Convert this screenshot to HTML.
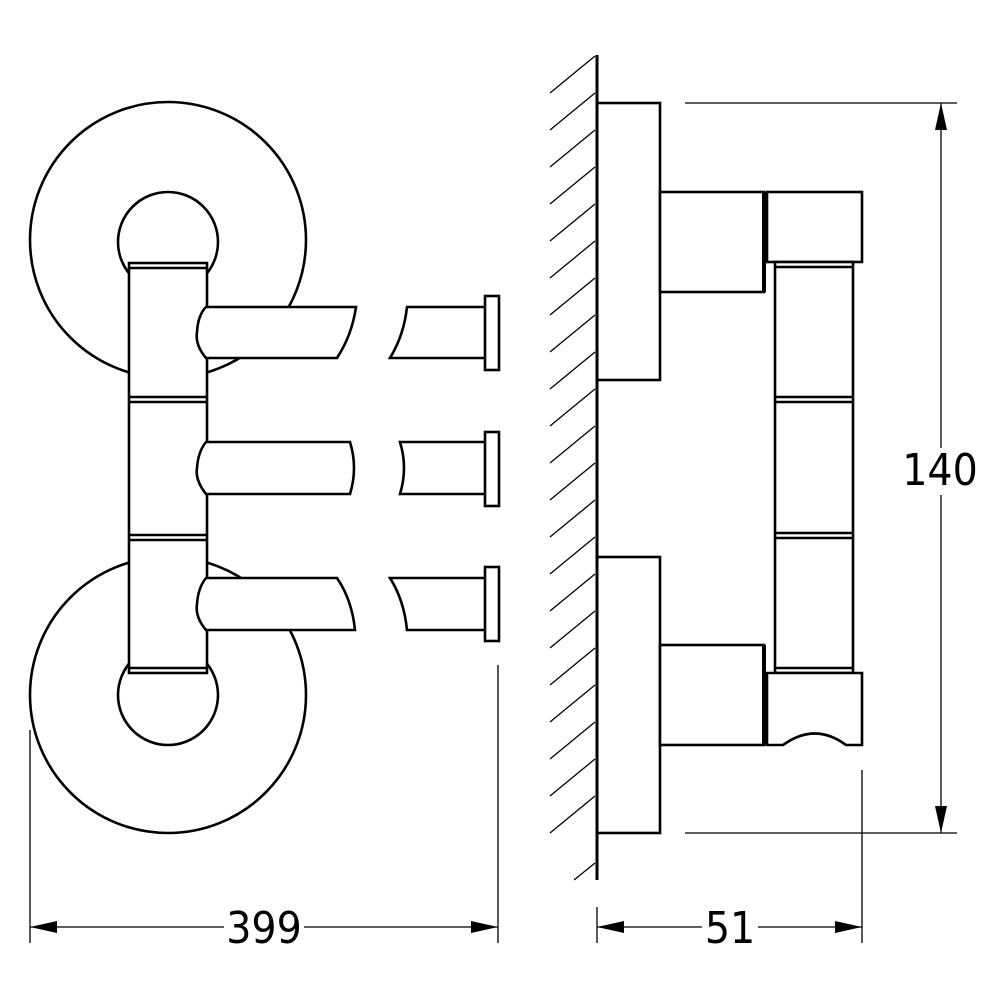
<!DOCTYPE html>
<html><head><style>html,body{margin:0;padding:0;background:#fff}</style></head>
<body>
<svg width="1000" height="1000" viewBox="0 0 1000 1000" xmlns="http://www.w3.org/2000/svg">
<rect width="1000" height="1000" fill="#fff"/>
<g fill="#fff" stroke="#000" stroke-width="2.6">
<!-- left view -->
<circle cx="168" cy="240" r="138"/>
<circle cx="168" cy="695" r="138"/>
<circle cx="168" cy="242" r="50"/>
<circle cx="168" cy="695" r="50"/>
<rect x="129" y="263" width="78" height="410"/>
<line x1="129" y1="268" x2="207" y2="268"/>
<line x1="129" y1="397" x2="207" y2="397"/>
<line x1="129" y1="402" x2="207" y2="402"/>
<line x1="129" y1="535" x2="207" y2="535"/>
<line x1="129" y1="540" x2="207" y2="540"/>
<line x1="129" y1="668" x2="207" y2="668"/>
<!-- top arm -->
<path d="M206,307 L356,307 Q352,335 337,358 L206,358 Q195,345 197,332 Q198,315 206,307 Z"/>
<path d="M486,307 L407,307 Q404,335 390,358 L486,358"/>
<rect x="485" y="296" width="14" height="74"/>
<!-- middle arm -->
<path d="M206,442 L350,442 Q358,468 350,494 L206,494 Q195,480 197,468 Q198,452 206,442 Z"/>
<path d="M486,442 L400,442 Q408,468 400,494 L486,494"/>
<rect x="485" y="432" width="14" height="74"/>
<!-- bottom arm -->
<path d="M206,578 L337,578 Q352,600 355,630 L206,630 Q195,617 197,604 Q198,588 206,578 Z"/>
<path d="M486,578 L390,578 Q404,600 407,630 L486,630"/>
<rect x="485" y="567" width="14" height="74"/>
<!-- right view -->
<rect x="597" y="103" width="63" height="277"/>
<rect x="597" y="557" width="63" height="276"/>
<rect x="660" y="192" width="104" height="100"/>
<rect x="660" y="645" width="104" height="100"/>
<rect x="767" y="192" width="95" height="70"/>
<rect x="775" y="262" width="78" height="411"/>
<line x1="775" y1="267" x2="853" y2="267"/>
<line x1="775" y1="397" x2="853" y2="397"/>
<line x1="775" y1="402" x2="853" y2="402"/>
<line x1="775" y1="533" x2="853" y2="533"/>
<line x1="775" y1="538" x2="853" y2="538"/>
<line x1="775" y1="668" x2="853" y2="668"/>
<path d="M767,673 L862,673 L862,745 L846,745 Q815,722 783,745 L767,745 Z"/>
</g>
<g stroke="#000" stroke-width="4">
<line x1="764" y1="192" x2="764" y2="292"/>
<line x1="764" y1="645" x2="764" y2="745"/>
</g>
<line x1="597" y1="55" x2="597" y2="880" stroke="#000" stroke-width="3"/>
<g stroke="#000" stroke-width="1.3">
<line x1="550" y1="93" x2="595" y2="56"/>
<line x1="550" y1="130" x2="595" y2="93"/>
<line x1="550" y1="167" x2="595" y2="130"/>
<line x1="550" y1="204" x2="595" y2="167"/>
<line x1="550" y1="241" x2="595" y2="204"/>
<line x1="550" y1="278" x2="595" y2="241"/>
<line x1="550" y1="315" x2="595" y2="278"/>
<line x1="550" y1="352" x2="595" y2="315"/>
<line x1="550" y1="389" x2="595" y2="352"/>
<line x1="550" y1="426" x2="595" y2="389"/>
<line x1="550" y1="463" x2="595" y2="426"/>
<line x1="550" y1="500" x2="595" y2="463"/>
<line x1="550" y1="537" x2="595" y2="500"/>
<line x1="550" y1="574" x2="595" y2="537"/>
<line x1="550" y1="611" x2="595" y2="574"/>
<line x1="550" y1="648" x2="595" y2="611"/>
<line x1="550" y1="685" x2="595" y2="648"/>
<line x1="550" y1="722" x2="595" y2="685"/>
<line x1="550" y1="759" x2="595" y2="722"/>
<line x1="550" y1="796" x2="595" y2="759"/>
<line x1="550" y1="833" x2="595" y2="796"/>
<line x1="574" y1="880" x2="595" y2="863"/>
<!-- dimension 140 -->
<line x1="685" y1="103" x2="957" y2="103"/>
<line x1="685" y1="833" x2="957" y2="833"/>
<line x1="941" y1="103" x2="941" y2="448"/>
<line x1="941" y1="495" x2="941" y2="833"/>
<!-- dimension 399 -->
<line x1="30" y1="730" x2="30" y2="943"/>
<line x1="498" y1="665" x2="498" y2="943"/>
<line x1="30" y1="927" x2="224" y2="927"/>
<line x1="304" y1="927" x2="498" y2="927"/>
<!-- dimension 51 -->
<line x1="597" y1="907" x2="597" y2="943"/>
<line x1="862" y1="770" x2="862" y2="943"/>
<line x1="597" y1="927" x2="702" y2="927"/>
<line x1="758" y1="927" x2="862" y2="927"/>
</g>
<g fill="#000">
<polygon points="941,103 935,130 947,130"/>
<polygon points="941,833 935,806 947,806"/>
<polygon points="30,927 57,921 57,933"/>
<polygon points="498,927 471,921 471,933"/>
<polygon points="597,927 624,921 624,933"/>
<polygon points="862,927 835,921 835,933"/>
</g>
<g font-family="'DejaVu Sans Condensed','Liberation Sans Narrow','Liberation Sans',sans-serif" font-size="44" fill="#000" text-anchor="middle">
<text x="264" y="943">399</text>
<text x="730" y="943">51</text>
<text x="940" y="485">140</text>
</g>
</svg>
</body></html>
